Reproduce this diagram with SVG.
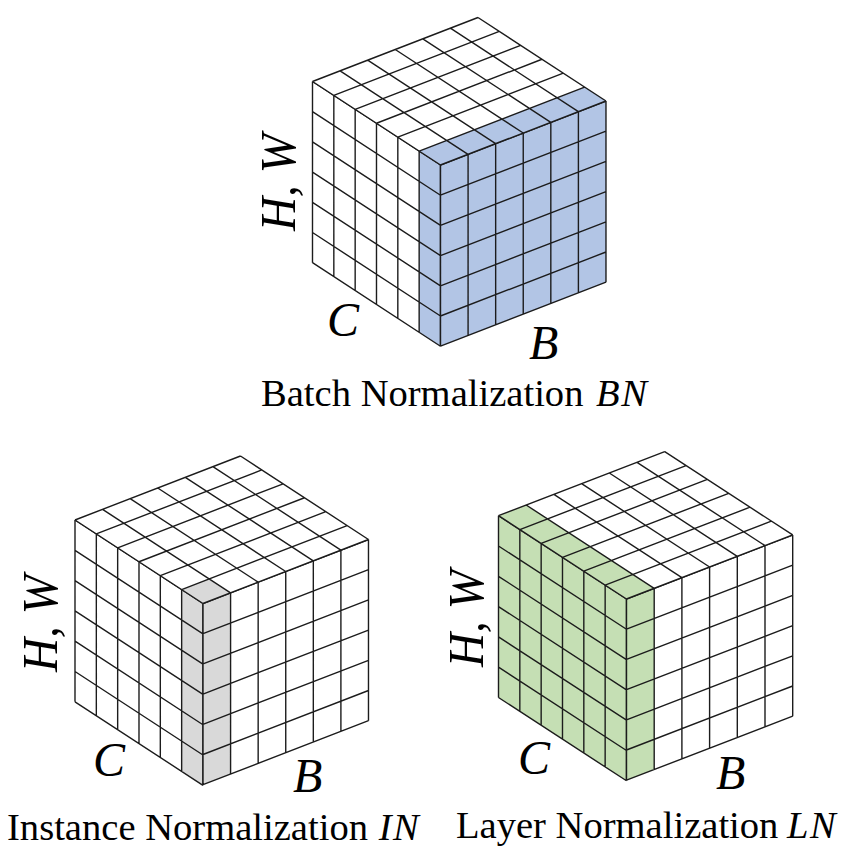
<svg xmlns="http://www.w3.org/2000/svg" xmlns:xlink="http://www.w3.org/1999/xlink" width="848" height="864" viewBox="0 0 848 864">
<style>
.grid{fill:none;stroke:#1c1c1c;stroke-width:1.4;vector-effect:non-scaling-stroke}
.face{fill:#fff}
.blue{fill:#b2c5e5}
.gray{fill:#d9d9d9}
.green{fill:#c5dfb4}
text{font-family:"Liberation Serif","Times New Roman",serif;fill:#000}
.cap{font-size:38.6px}
.var{font-size:48px;font-style:italic}
.hw{font-size:51px;font-style:italic}
.i{font-style:italic;letter-spacing:1.5px}
</style>
<defs>
<path id="g" class="grid" d="M0 0H6M0 1H6M0 2H6M0 3H6M0 4H6M0 5H6M0 6H6M0 0V6M1 0V6M2 0V6M3 0V6M4 0V6M5 0V6M6 0V6"/>
</defs>
<rect width="848" height="864" fill="#fff"/>

<g id="batch-norm">
<g transform="matrix(21.33 13.92 0 30.2 312.5 81.5)"><rect class="face" width="6" height="6"/><rect class="blue" x="5" width="1" height="6"/><use xlink:href="#g" href="#g"/></g>
<g transform="matrix(27.58 -10.67 0 30.2 440.5 165)"><rect class="blue" width="6" height="6"/><use xlink:href="#g" href="#g"/></g>
<g transform="matrix(21.33 13.92 27.58 -10.67 312.5 81.5)"><rect class="face" width="6" height="6"/><rect class="blue" x="5" width="1" height="6"/><use xlink:href="#g" href="#g"/></g>
<text class="hw" transform="translate(295 231) rotate(-90)" textLength="97" lengthAdjust="spacingAndGlyphs">H, W</text>
<text class="var" x="327" y="336">C</text>
<text class="var" x="529" y="359">B</text>
<text class="cap" x="261" y="406">Batch Normalization <tspan class="i" dx="3">BN</tspan></text>
</g>

<g id="instance-norm">
<g transform="matrix(21.33 13.92 0 30.3 75 520)"><rect class="face" width="6" height="6"/><rect class="gray" x="5" width="1" height="6"/><use xlink:href="#g" href="#g"/></g>
<g transform="matrix(27.58 -10.67 0 30.2 203 603.5)"><rect class="face" width="6" height="6"/><rect class="gray" width="1" height="6"/><use xlink:href="#g" href="#g"/></g>
<g transform="matrix(21.33 13.92 27.58 -10.67 75 520)"><rect class="face" width="6" height="6"/><rect class="gray" x="5" width="1" height="1"/><use xlink:href="#g" href="#g"/></g>
<text class="hw" transform="translate(57 672) rotate(-90)" textLength="97" lengthAdjust="spacingAndGlyphs">H, W</text>
<text class="var" x="93" y="776">C</text>
<text class="var" x="293" y="792">B</text>
<text class="cap" x="7" y="840">Instance Normalization <tspan class="i" dx="1">IN</tspan></text>
</g>

<g id="layer-norm">
<g transform="matrix(21.33 13.88 0 30.3 498.5 515.7)"><rect class="green" width="6" height="6"/><use xlink:href="#g" href="#g"/></g>
<g transform="matrix(27.7 -10.67 0 30.2 626.5 599)"><rect class="face" width="6" height="6"/><rect class="green" width="1" height="6"/><use xlink:href="#g" href="#g"/></g>
<g transform="matrix(21.33 13.88 27.7 -10.67 498.5 515.7)"><rect class="face" width="6" height="6"/><rect class="green" width="6" height="1"/><use xlink:href="#g" href="#g"/></g>
<text class="hw" transform="translate(483 667) rotate(-90)" textLength="97" lengthAdjust="spacingAndGlyphs">H, W</text>
<text class="var" x="518" y="774">C</text>
<text class="var" x="716" y="789">B</text>
<text class="cap" x="456" y="838">Layer Normalization <tspan class="i" dx="-1">LN</tspan></text>
</g>
</svg>
